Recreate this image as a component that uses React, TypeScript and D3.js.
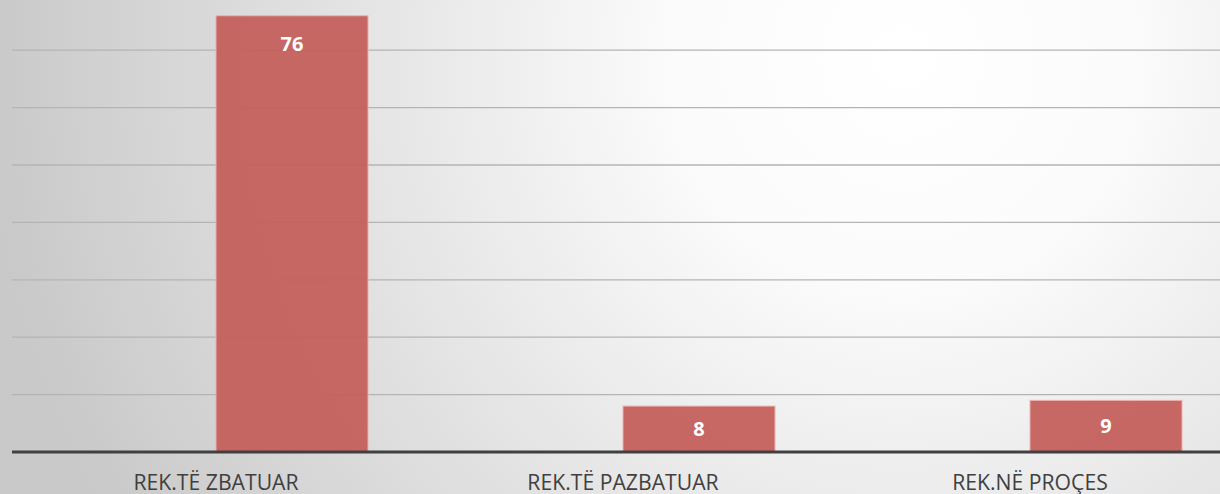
import React from "react";
import * as d3 from "d3";

const categories = ["REK.TË ZBATUAR", "REK.TË PAZBATUAR", "REK.NË PROÇES"];
const values = [76, 8, 9];
const gridTicks = [10, 20, 30, 40, 50, 60, 70];

const W = 1220;
const H = 494;

export default function App() {
  const base = 452;
  const x = d3
    .scaleBand<string>()
    .domain(categories)
    .range([88.5, 1309.5])
    .paddingInner(0.6265)
    .paddingOuter(0.31325);
  const y = d3.scaleLinear().domain([0, 80]).range([base, -7.2]);

  return (
    <svg
      width={W}
      height={H}
      style={{ position: "absolute", left: 0, top: 0, display: "block" }}
    >
      <defs>
        <radialGradient id="bg" cx="0.74" cy="0.12" r="0.75" gradientUnits="objectBoundingBox" gradientTransform="translate(0.74 0.12) scale(1 2.47) translate(-0.74 -0.12)">
          <stop offset="0" stopColor="#ffffff" />
          <stop offset="0.25" stopColor="#fbfbfb" />
          <stop offset="1" stopColor="#c9c9c9" />
        </radialGradient>
      </defs>
      <rect x={0} y={0} width={W} height={H} fill="url(#bg)" />
      {gridTicks.map((t) => (
        <line
          key={t}
          x1={12}
          x2={W}
          y1={y(t)}
          y2={y(t)}
          stroke="#b4b4b4"
          strokeWidth={1.3}
        />
      ))}
      {categories.map((c, i) => {
        const top = y(values[i]);
        const bx = x(c)!;
        const bw = x.bandwidth();
        const ly = Math.min(top + 28, (top + base) / 2);
        return (
          <g key={c}>
            <rect
              x={bx}
              y={top}
              width={bw}
              height={base - top}
              fill="#c4605d"
              fillOpacity={0.95}
              stroke="#eab4b2"
              strokeWidth={1}
            />
            <text
              x={bx + bw / 2}
              y={ly}
              dy="0.36em"
              textAnchor="middle"
              fill="#ffffff"
              fontFamily="'Open Sans', sans-serif"
              fontWeight="bold"
              fontSize={20}
            >
              {values[i]}
            </text>
            <text
              x={bx}
              y={490}
              textAnchor="middle"
              fill="#404040"
              fontFamily="'Open Sans', sans-serif"
              fontSize={21.2}
            >
              {c}
            </text>
          </g>
        );
      })}
      <line x1={12} x2={W} y1={base} y2={base} stroke="#404040" strokeWidth={3} />
    </svg>
  );
}
